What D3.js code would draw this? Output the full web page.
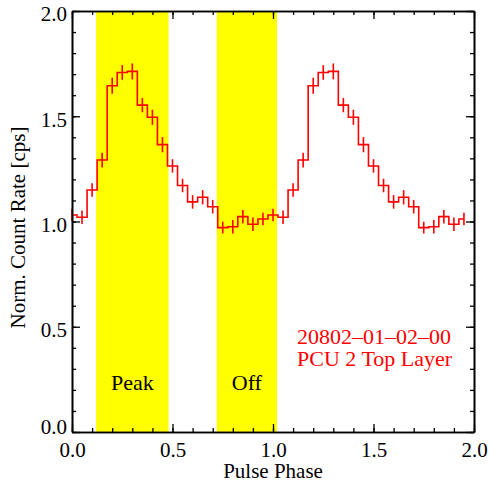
<!DOCTYPE html>
<html>
<head>
<meta charset="utf-8">
<script src="https://cdn.jsdelivr.net/npm/d3@7"></script>
<style>
  @font-face {
    font-family: 'ChartSerif';
    src: local('Liberation Serif'), local('LiberationSerif'), local('LiberationSerif-Regular');
  }
  body { margin: 0; background: #fff; }
  svg text {
    font-family: 'Liberation Serif', 'ChartSerif', 'Tinos', 'Nimbus Roman', 'FreeSerif', 'Times New Roman' !important;
  }
</style>
</head>
<body>
<div id="chart"></div>
<script>
// Pulse profile (two cycles), bin centres in phase
const phases = [0.00, 0.05, 0.10, 0.15, 0.20, 0.25, 0.30, 0.35, 0.40, 0.45,
                0.50, 0.55, 0.60, 0.65, 0.70, 0.75, 0.80, 0.85, 0.90, 0.95,
                1.00, 1.05, 1.10, 1.15, 1.20, 1.25, 1.30, 1.35, 1.40, 1.45,
                1.50, 1.55, 1.60, 1.65, 1.70, 1.75, 1.80, 1.85, 1.90, 1.95];
const rates = [1.031, 1.020, 1.150, 1.292, 1.645, 1.708, 1.713, 1.553, 1.495, 1.365,
               1.264, 1.171, 1.093, 1.115, 1.070, 0.971, 0.975, 1.023, 0.987, 1.012,
               1.031, 1.020, 1.150, 1.292, 1.645, 1.708, 1.713, 1.553, 1.495, 1.365,
               1.264, 1.171, 1.093, 1.115, 1.070, 0.971, 0.975, 1.023, 0.987, 1.012];
const errors = [0.030, 0.032, 0.032, 0.035, 0.038, 0.035, 0.038, 0.034, 0.036, 0.036,
                0.032, 0.032, 0.032, 0.034, 0.032, 0.028, 0.032, 0.032, 0.032, 0.030,
                0.030, 0.032, 0.032, 0.035, 0.038, 0.035, 0.038, 0.034, 0.036, 0.036,
                0.032, 0.032, 0.032, 0.034, 0.032, 0.028, 0.032, 0.032, 0.032, 0.030];

// Phase intervals shaded in yellow
const bands = [
  { label: 'Peak', from: 0.12, to: 0.48 },
  { label: 'Off',  from: 0.72, to: 1.02 }
];

const xMajor = [0, 0.5, 1.0, 1.5, 2.0];
const yMajor = [0, 0.5, 1.0, 1.5, 2.0];
const minorTicks = d3.range(0, 2.0001, 0.1);

const noteLines = ['20802\u201301\u201302\u201300', 'PCU 2 Top Layer'];

const width = 490, height = 482;
const margin = { top: 11, right: 16, bottom: 50, left: 72 };
const x0 = margin.left, x1 = width - margin.right;
const y0 = height - margin.bottom, y1 = margin.top;

const svg = d3.select('#chart').append('svg')
    .attr('width', width)
    .attr('height', height);

const x = d3.scaleLinear().domain([0, 2]).range([x0, x1]);
const y = d3.scaleLinear().domain([0, 2]).range([y0, y1]);

function label(sel, size, color) {
    return sel
        .style('font-size', size + 'px')
        .style('fill', color);
}

// Yellow bands
svg.selectAll('.band')
    .data(bands)
    .enter()
    .append('rect')
    .attr('x', d => x(d.from))
    .attr('width', d => x(d.to) - x(d.from))
    .attr('y', y1)
    .attr('height', y0 - y1)
    .attr('fill', '#ffff00');

svg.selectAll('.band-label')
    .data(bands)
    .enter()
    .append('text')
    .attr('x', d => x((d.from + d.to) / 2))
    .attr('y', 390)
    .attr('text-anchor', 'middle')
    .call(label, 22, '#000')
    .text(d => d.label);

// Histogram-style step line (IDL psym=10 look)
const stepPts = [];
phases.forEach((p, i) => {
    const left = i === 0 ? p : (phases[i - 1] + p) / 2;
    const right = i === phases.length - 1 ? p : (p + phases[i + 1]) / 2;
    stepPts.push([left, rates[i]]);
    stepPts.push([right, rates[i]]);
});

svg.append('path')
    .datum(stepPts)
    .attr('d', d3.line().x(d => x(d[0])).y(d => y(d[1])))
    .attr('fill', 'none')
    .attr('stroke', '#ff0000')
    .attr('stroke-width', 1.6);

// Error bars
svg.selectAll('.err')
    .data(phases.map((p, i) => ({ p, v: rates[i], e: errors[i] })))
    .enter()
    .append('line')
    .attr('x1', d => x(d.p))
    .attr('x2', d => x(d.p))
    .attr('y1', d => y(d.v - d.e))
    .attr('y2', d => y(d.v + d.e))
    .attr('stroke', '#ff0000')
    .attr('stroke-width', 1.6);

// Axes: major and minor ticks on all four sides, pointing inward
function addAxis(axisFn, scale, values, size, transform, showLabels) {
    const g = svg.append('g')
        .attr('transform', transform)
        .call(axisFn(scale).tickValues(values).tickSize(-size).tickSizeOuter(0)
            .tickFormat(showLabels ? d3.format('.1f') : ''));
    g.attr('font-family', null);
    g.select('.domain').attr('stroke', '#000').attr('stroke-width', 1.6);
    g.selectAll('.tick line').attr('stroke', '#000').attr('stroke-width', 1.3);
    g.selectAll('.tick text').attr('dy', null).call(label, 21, '#000');
    return g;
}

const gx = addAxis(d3.axisBottom, x, xMajor, 8, `translate(0,${y0})`, true);
addAxis(d3.axisBottom, x, minorTicks, 4, `translate(0,${y0})`, false);
addAxis(d3.axisTop, x, xMajor, 8, `translate(0,${y1})`, false);
addAxis(d3.axisTop, x, minorTicks, 4, `translate(0,${y1})`, false);

const gy = addAxis(d3.axisLeft, y, yMajor, 8, `translate(${x0},0)`, true);
addAxis(d3.axisLeft, y, minorTicks, 4, `translate(${x0},0)`, false);
addAxis(d3.axisRight, y, yMajor, 8, `translate(${x1},0)`, false);
addAxis(d3.axisRight, y, minorTicks, 4, `translate(${x1},0)`, false);

gx.selectAll('.tick text').attr('y', 25);

gy.selectAll('.tick text')
    .attr('x', -5)
    .attr('y', d => d === 0 ? 1 : (d === 2 ? 9 : 10));

// Axis titles
svg.append('text')
    .attr('x', (x0 + x1) / 2)
    .attr('y', 478)
    .attr('text-anchor', 'middle')
    .call(label, 21, '#000')
    .text('Pulse Phase');

svg.append('text')
    .attr('transform', `translate(25,${(y0 + y1) / 2 + 6}) rotate(-90)`)
    .attr('text-anchor', 'middle')
    .call(label, 21, '#000')
    .text('Norm. Count Rate [cps]');

// Observation note
svg.selectAll('.note')
    .data(noteLines)
    .enter()
    .append('text')
    .attr('x', 297)
    .attr('y', (d, i) => 344 + i * 22)
    .call(label, 22, '#ff0000')
    .text(d => d);
</script>
</body>
</html>
